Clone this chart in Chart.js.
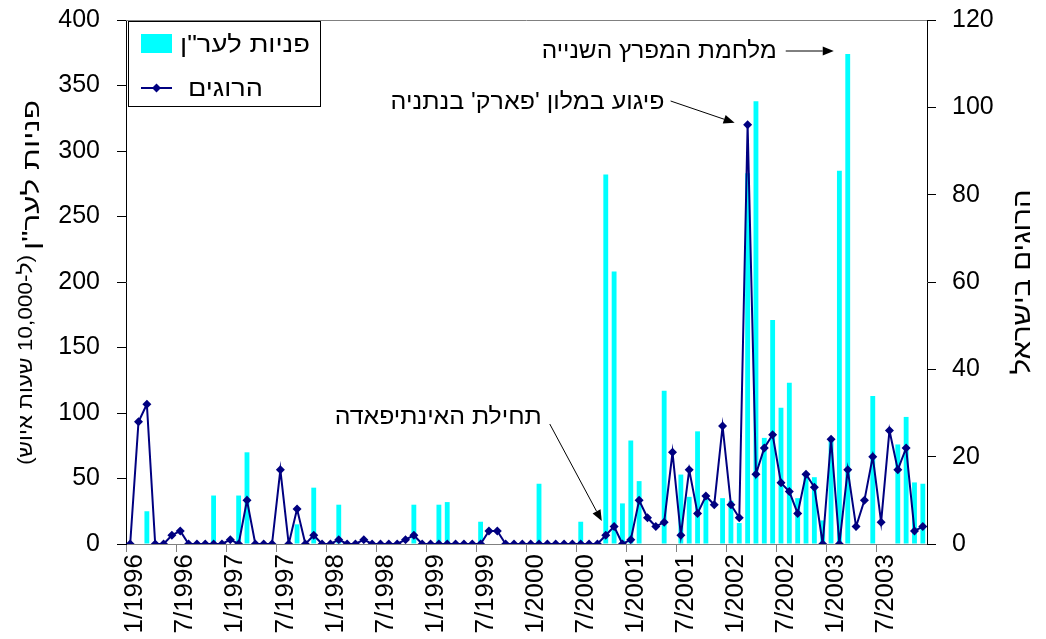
<!DOCTYPE html>
<html><head><meta charset="utf-8">
<script src="https://cdn.jsdelivr.net/npm/chart.js@4/dist/chart.umd.min.js"></script>
<style>html,body{margin:0;padding:0;background:#fff;}#wrap{width:1046px;height:639px;position:relative;}</style>
</head><body><div id="wrap"><canvas id="c" width="1046" height="639"></canvas></div>
<script>
// ---- data ----
const years = [1996, 1997, 1998, 1999, 2000, 2001, 2002, 2003];
const monthNums = [1, 2, 3, 4, 5, 6, 7, 8, 9, 10, 11, 12];
const labeledMonths = [1, 7];
const categories = years.flatMap(y => monthNums.map(m => m + '/' + y));

// calls to ERAN per 10,000 staffing hours (left axis)
const calls = [
  0, 0, 25, 0, 0, 0, 0, 0, 0, 0,
  37, 0, 0, 37, 70, 0, 0, 0, 0, 0,
  15, 0, 43, 0, 0, 30, 0, 0, 0, 0,
  0, 0, 0, 0, 30, 0, 0, 30, 32, 0,
  0, 0, 17, 0, 0, 0, 0, 0, 0, 46,
  0, 0, 0, 0, 17, 0, 0, 282, 208, 31,
  79, 48, 0, 0, 117, 0, 53, 36, 86, 36,
  0, 35, 33, 16, 283, 338, 81, 171, 104, 123,
  35, 53, 51, 18, 80, 285, 374, 0, 0, 113,
  0, 0, 76, 97, 47, 46
];
// killed in Israel (right axis)
const killed = [
  0, 28, 32, 0, 0, 2, 3, 0, 0, 0,
  0, 0, 1, 0, 10, 0, 0, 0, 17, 0,
  8, 0, 2, 0, 0, 1, 0, 0, 1, 0,
  0, 0, 0, 1, 2, 0, 0, 0, 0, 0,
  0, 0, 0, 3, 3, 0, 0, 0, 0, 0,
  0, 0, 0, 0, 0, 0, 0, 2, 4, 0,
  1, 10, 6, 4, 5, 21, 2, 17, 7, 11,
  9, 27, 9, 6, 96, 16, 22, 25, 14, 12,
  7, 16, 13, 0, 24, 0, 17, 4, 10, 20,
  5, 26, 17, 22, 3, 4
];
const leftRange = [0, 400, 50];
const rightRange = [0, 120, 20];
const seriesNames = ['פניות לער"ן', 'הרוגים'];
const leftTitleParts = ['פניות לער"ן', '(ל-10,000 שעות איוש)'];
const rightTitle = 'הרוגים בישראל';
const notes = [
  { text: 'מלחמת המפרץ השנייה', idx: 86 },
  { text: "פיגוע במלון 'פארק' בנתניה", idx: 74 },
  { text: 'תחילת האינתיפאדה', idx: 57 }
];

// ---- styles ----
const FONT = "'Liberation Sans', Arial, sans-serif";
const CYAN = '#00FFFF';
const NAVY = '#000080';

function arrow(ctx, x1, y1, x2, y2) {
  ctx.save();
  ctx.strokeStyle = '#000'; ctx.fillStyle = '#000'; ctx.lineWidth = 1;
  const a = Math.atan2(y2 - y1, x2 - x1), L = 11, W = 4.5;
  const bx = x2 - L * Math.cos(a), by = y2 - L * Math.sin(a);
  ctx.beginPath(); ctx.moveTo(x1, y1); ctx.lineTo(bx, by); ctx.stroke();
  ctx.beginPath(); ctx.moveTo(x2, y2);
  ctx.lineTo(bx + W * Math.sin(a), by - W * Math.cos(a));
  ctx.lineTo(bx - W * Math.sin(a), by + W * Math.cos(a));
  ctx.closePath(); ctx.fill();
  ctx.restore();
}
// draw text stretched along its direction to a target length
function fitText(ctx, text, x, y, size, target, align, rot, baseline) {
  ctx.save();
  ctx.translate(x, y); ctx.rotate(rot || 0);
  ctx.font = size + 'px ' + FONT; ctx.direction = 'rtl';
  ctx.textAlign = align; ctx.textBaseline = baseline || 'middle';
  const w = ctx.measureText(text).width;
  ctx.scale(target / w, 1);
  ctx.fillStyle = '#000';
  ctx.fillText(text, 0, 0);
  ctx.restore();
}

const decor = {
  id: 'decor',
  afterDraw(chart) {
    const ctx = chart.ctx, ca = chart.chartArea;
    const xs = chart.scales.x, yr = chart.scales.y1;
    ctx.save();
    // plot-area top border
    ctx.strokeStyle = '#808080'; ctx.lineWidth = 1;
    ctx.beginPath(); ctx.moveTo(ca.left, Math.round(ca.top) + 0.5); ctx.lineTo(ca.right, Math.round(ca.top) + 0.5); ctx.stroke();

    // legend
    ctx.fillStyle = '#fff'; ctx.fillRect(128.5, 21.5, 192, 85);
    ctx.strokeStyle = '#000'; ctx.strokeRect(128.5, 21.5, 192, 85);
    ctx.fillStyle = CYAN; ctx.fillRect(141, 34, 31, 19);
    ctx.strokeStyle = NAVY; ctx.lineWidth = 2;
    ctx.beginPath(); ctx.moveTo(141, 88); ctx.lineTo(172, 88); ctx.stroke();
    ctx.fillStyle = NAVY;
    ctx.beginPath(); ctx.moveTo(156.5, 83.5); ctx.lineTo(161, 88); ctx.lineTo(156.5, 92.5); ctx.lineTo(152, 88); ctx.closePath(); ctx.fill();
    fitText(ctx, seriesNames[0], 180, 45, 24, 130, 'left', 0);
    fitText(ctx, seriesNames[1], 188, 89, 24, 75, 'left', 0);

    // left axis title (two parts)
    fitText(ctx, leftTitleParts[0], 39, 175, 23, 150, 'center', -Math.PI / 2, 'alphabetic');
    fitText(ctx, leftTitleParts[1], 32, 360, 20, 210, 'center', -Math.PI / 2, 'alphabetic');

    // right axis title
    fitText(ctx, rightTitle, 1023, 282, 25, 185, 'center', -Math.PI / 2, 'middle');

    // annotations
    const gx = xs.getPixelForValue(notes[0].idx);
    fitText(ctx, notes[0].text, gx - 71, 52, 23, 235, 'right', 0);
    arrow(ctx, gx - 62, 51, gx - 14, 51);
    const px = xs.getPixelForValue(notes[1].idx), py = yr.getPixelForValue(killed[notes[1].idx]);
    fitText(ctx, notes[1].text, px - 83, 103, 23, 274, 'right', 0);
    arrow(ctx, px - 77, 101, px - 13, py - 2);
    const ix = xs.getPixelForValue(notes[2].idx);
    fitText(ctx, notes[2].text, ix - 64, 418, 23, 207, 'right', 0);
    arrow(ctx, ix - 56, 424, ix - 4, 521);
    ctx.restore();
  }
};

const noPad = s => { s.paddingTop = 0; s.paddingBottom = 0; };
const tickFont = { family: FONT, size: 25 };
new Chart(document.getElementById('c'), {
  data: {
    labels: categories,
    datasets: [
      { type: 'line', label: seriesNames[1], data: killed, yAxisID: 'y1', order: 0,
        borderColor: NAVY, backgroundColor: NAVY, borderWidth: 2, tension: 0,
        pointStyle: 'rectRot', pointRadius: 4.5, pointBackgroundColor: NAVY, pointBorderColor: NAVY, pointBorderWidth: 0 },
      { type: 'bar', label: seriesNames[0], data: calls, yAxisID: 'y', order: 1,
        backgroundColor: CYAN, borderWidth: 0, barPercentage: 0.58, categoryPercentage: 1.0 }
    ]
  },
  options: {
    responsive: false, animation: false, devicePixelRatio: 1,
    layout: { padding: { top: 20, left: 0, right: 0, bottom: 0 } },
    plugins: { legend: { display: false }, tooltip: { enabled: false }, title: { display: false } },
    scales: {
      x: {
        type: 'category', offset: true,
        grid: { offset: true, drawOnChartArea: false, drawTicks: true, tickLength: 8,
          color: c => (c.index % 6 === 0 ? '#808080' : 'rgba(0,0,0,0)') },
        border: { color: '#808080', width: 1 },
        ticks: { autoSkip: false, minRotation: 90, maxRotation: 90, color: '#000', padding: 2, labelOffset: 5,
          font: { family: FONT, size: 26 },
          callback: function (v, i) { const lab = categories[i]; return labeledMonths.includes(+lab.split('/')[0]) ? lab : ''; } },
        afterFit: s => { s.height = 95; }
      },
      y: {
        position: 'left', min: leftRange[0], max: leftRange[1],
        grid: { drawOnChartArea: false, drawTicks: true, tickLength: 9, color: '#000' },
        border: { color: '#000', width: 1 },
        ticks: { stepSize: leftRange[2], color: '#000', font: tickFont, padding: 17 },
        afterFit: s => { s.width = 126; noPad(s); }
      },
      y1: {
        position: 'right', min: rightRange[0], max: rightRange[1],
        grid: { drawOnChartArea: false, drawTicks: true, tickLength: 9, color: '#000' },
        border: { color: '#000', width: 1 },
        ticks: { stepSize: rightRange[2], color: '#000', font: tickFont, padding: 16 },
        afterFit: s => { s.width = 119; noPad(s); }
      }
    }
  },
  plugins: [decor]
});
</script></body></html>
